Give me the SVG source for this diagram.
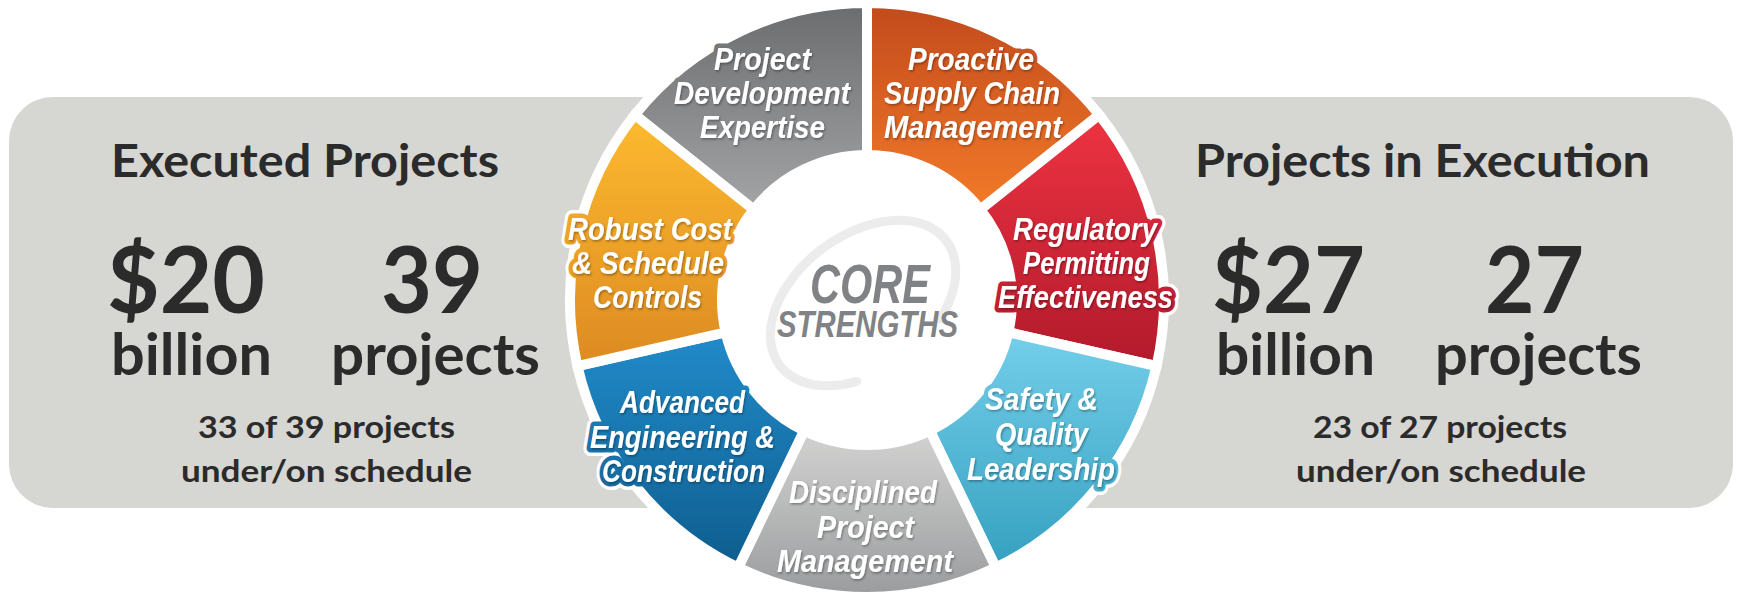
<svg xmlns="http://www.w3.org/2000/svg" xmlns:xlink="http://www.w3.org/1999/xlink" width="1737" height="595" viewBox="0 0 1737 595">
<style>
.seg{stroke:#fff;stroke-width:10;stroke-linejoin:miter}
.lbl{font-family:"Liberation Sans",Arial,sans-serif;font-weight:700;font-style:italic;font-size:31px}
.hw{fill:#fff;stroke:#fff;stroke-width:16;stroke-linejoin:round}
.hc{fill:#fff;stroke-width:9;stroke-linejoin:round}
.pn{font-family:Lato,"Open Sans",sans-serif;font-weight:700;fill:#2b2b2b}
.h1{font-size:45px}
.big{font-size:92px}
.mid{font-size:58px}
.sm{font-size:30px}
.core{font-family:"Liberation Sans",Arial,sans-serif;font-weight:700;font-style:italic;fill:#808285}
</style>
<defs>
<linearGradient id="gGray" gradientUnits="userSpaceOnUse" x1="0" y1="3" x2="0" y2="212"><stop offset="0" stop-color="#6b6c6e"/><stop offset="1" stop-color="#a3a5a7"/></linearGradient>
<linearGradient id="gOrange" gradientUnits="userSpaceOnUse" x1="0" y1="3" x2="0" y2="212"><stop offset="0" stop-color="#c24a1c"/><stop offset="1" stop-color="#f37b29"/></linearGradient>
<linearGradient id="gRed" gradientUnits="userSpaceOnUse" x1="0" y1="115" x2="0" y2="366"><stop offset="0" stop-color="#ee3342"/><stop offset="1" stop-color="#b11a2b"/></linearGradient>
<linearGradient id="gLblue" gradientUnits="userSpaceOnUse" x1="0" y1="332" x2="0" y2="568"><stop offset="0" stop-color="#74cfea"/><stop offset="1" stop-color="#35a0c0"/></linearGradient>
<linearGradient id="gLgray" gradientUnits="userSpaceOnUse" x1="0" y1="431" x2="0" y2="597"><stop offset="0" stop-color="#d2d3d1"/><stop offset="1" stop-color="#9a9b9d"/></linearGradient>
<linearGradient id="gBlue" gradientUnits="userSpaceOnUse" x1="0" y1="332" x2="0" y2="568"><stop offset="0" stop-color="#218bca"/><stop offset="1" stop-color="#0e5d8e"/></linearGradient>
<linearGradient id="gYellow" gradientUnits="userSpaceOnUse" x1="0" y1="115" x2="0" y2="366"><stop offset="0" stop-color="#fdba2f"/><stop offset="1" stop-color="#dd8a22"/></linearGradient>
<filter id="sh" x="-10%" y="-20%" width="125%" height="150%"><feDropShadow dx="1" dy="1.5" stdDeviation="1" flood-color="#000" flood-opacity="0.35"/></filter>
</defs>

<rect id="panel" x="9" y="97" width="1724" height="411" rx="44" fill="#d6d6d2"/>

<g id="executed">
<text class="pn h1" x="111" y="177" textLength="388" lengthAdjust="spacingAndGlyphs">Executed Projects</text>
<text class="pn big" x="107" y="313" textLength="158" lengthAdjust="spacingAndGlyphs">$20</text>
<text class="pn big" x="381" y="313" textLength="102" lengthAdjust="spacingAndGlyphs">39</text>
<text class="pn mid" x="111" y="375" textLength="161" lengthAdjust="spacingAndGlyphs">billion</text>
<text class="pn mid" x="331" y="375" textLength="209" lengthAdjust="spacingAndGlyphs">projects</text>
<text class="pn sm" x="198" y="438" textLength="257" lengthAdjust="spacingAndGlyphs">33 of 39 projects</text>
<text class="pn sm" x="181" y="482" textLength="291" lengthAdjust="spacingAndGlyphs">under/on schedule</text>
</g>

<g id="in-execution">
<text class="pn h1" x="1195" y="177" textLength="455" lengthAdjust="spacingAndGlyphs">Projects in Execution</text>
<text class="pn big" x="1212" y="313" textLength="153" lengthAdjust="spacingAndGlyphs">$27</text>
<text class="pn big" x="1485" y="313" textLength="99" lengthAdjust="spacingAndGlyphs">27</text>
<text class="pn mid" x="1216" y="375" textLength="159" lengthAdjust="spacingAndGlyphs">billion</text>
<text class="pn mid" x="1435" y="375" textLength="207" lengthAdjust="spacingAndGlyphs">projects</text>
<text class="pn sm" x="1313" y="438" textLength="254" lengthAdjust="spacingAndGlyphs">23 of 27 projects</text>
<text class="pn sm" x="1296" y="482" textLength="290" lengthAdjust="spacingAndGlyphs">under/on schedule</text>
</g>

<g id="core">
<circle cx="867" cy="300" r="152" fill="#fff"/>
<g transform="translate(863,303) rotate(-36.8)">
<path d="M-52,59 A104,68 0 1 1 52,59" fill="none" stroke="#ececec" stroke-width="9" stroke-linecap="round"/>
</g>
<text class="core" x="810" y="303" font-size="56" textLength="120" lengthAdjust="spacingAndGlyphs">CORE</text>
<text class="core" x="777" y="337" font-size="37" textLength="181" lengthAdjust="spacingAndGlyphs">STRENGTHS</text>
</g>

<g id="n-development">
<use xlink:href="#t-development" class="hw"/>
<path class="seg" fill="url(#gGray)" d="M634.80,114.82 A297,297 0 0 1 867,3 L867,155 A145,145 0 0 0 753.63,209.59 Z"/>
<use xlink:href="#t-development" class="hc" stroke="url(#gGray)"/>
<g filter="url(#sh)" fill="#fff"><g id="t-development" class="lbl">
<text x="714" y="70" textLength="97" lengthAdjust="spacingAndGlyphs">Project</text>
<text x="674" y="104" textLength="176" lengthAdjust="spacingAndGlyphs">Development</text>
<text x="700" y="138" textLength="125" lengthAdjust="spacingAndGlyphs">Expertise</text>
</g></g>
</g>

<g id="n-supply">
<use xlink:href="#t-supply" class="hw"/>
<path class="seg" fill="url(#gOrange)" d="M867,3 A297,297 0 0 1 1099.20,114.82 L980.37,209.59 A145,145 0 0 0 867,155 Z"/>
<use xlink:href="#t-supply" class="hc" stroke="url(#gOrange)"/>
<g filter="url(#sh)" fill="#fff"><g id="t-supply" class="lbl">
<text x="908" y="70" textLength="126" lengthAdjust="spacingAndGlyphs">Proactive</text>
<text x="884" y="104" textLength="176" lengthAdjust="spacingAndGlyphs">Supply Chain</text>
<text x="884" y="138" textLength="178" lengthAdjust="spacingAndGlyphs">Management</text>
</g></g>
</g>

<g id="n-regulatory">
<use xlink:href="#t-regulatory" class="hw"/>
<path class="seg" fill="url(#gRed)" d="M1099.20,114.82 A297,297 0 0 1 1156.55,366.09 L1008.36,332.27 A145,145 0 0 0 980.37,209.59 Z"/>
<use xlink:href="#t-regulatory" class="hc" stroke="url(#gRed)"/>
<g filter="url(#sh)" fill="#fff"><g id="t-regulatory" class="lbl">
<text x="1013" y="240" textLength="144" lengthAdjust="spacingAndGlyphs">Regulatory</text>
<text x="1023" y="274" textLength="127" lengthAdjust="spacingAndGlyphs">Permitting</text>
<text x="998" y="308" textLength="175" lengthAdjust="spacingAndGlyphs">Effectiveness</text>
</g></g>
</g>

<g id="n-safety">
<use xlink:href="#t-safety" class="hw"/>
<path class="seg" fill="url(#gLblue)" d="M1156.55,366.09 A297,297 0 0 1 995.86,567.59 L929.91,430.64 A145,145 0 0 0 1008.36,332.27 Z"/>
<use xlink:href="#t-safety" class="hc" stroke="url(#gLblue)"/>
<g filter="url(#sh)" fill="#fff"><g id="t-safety" class="lbl">
<text x="985" y="410" textLength="113" lengthAdjust="spacingAndGlyphs">Safety &amp;</text>
<text x="995" y="445" textLength="93" lengthAdjust="spacingAndGlyphs">Quality</text>
<text x="967" y="480" textLength="148" lengthAdjust="spacingAndGlyphs">Leadership</text>
</g></g>
</g>

<g id="n-disciplined">
<use xlink:href="#t-disciplined" class="hw"/>
<path class="seg" fill="url(#gLgray)" d="M995.86,567.59 A297,297 0 0 1 738.14,567.59 L804.09,430.64 A145,145 0 0 0 929.91,430.64 Z"/>
<use xlink:href="#t-disciplined" class="hc" stroke="url(#gLgray)"/>
<g filter="url(#sh)" fill="#fff"><g id="t-disciplined" class="lbl">
<text x="789" y="503" textLength="148" lengthAdjust="spacingAndGlyphs">Disciplined</text>
<text x="817" y="538" textLength="97" lengthAdjust="spacingAndGlyphs">Project</text>
<text x="777" y="572" textLength="176" lengthAdjust="spacingAndGlyphs">Management</text>
</g></g>
</g>

<g id="n-engineering">
<use xlink:href="#t-engineering" class="hw"/>
<path class="seg" fill="url(#gBlue)" d="M738.14,567.59 A297,297 0 0 1 577.45,366.09 L725.64,332.27 A145,145 0 0 0 804.09,430.64 Z"/>
<use xlink:href="#t-engineering" class="hc" stroke="url(#gBlue)"/>
<g filter="url(#sh)" fill="#fff"><g id="t-engineering" class="lbl">
<text x="620" y="413" textLength="125" lengthAdjust="spacingAndGlyphs">Advanced</text>
<text x="590" y="448" textLength="185" lengthAdjust="spacingAndGlyphs">Engineering &amp;</text>
<text x="602" y="482" textLength="163" lengthAdjust="spacingAndGlyphs">Construction</text>
</g></g>
</g>

<g id="n-cost">
<use xlink:href="#t-cost" class="hw"/>
<path class="seg" fill="url(#gYellow)" d="M577.45,366.09 A297,297 0 0 1 634.80,114.82 L753.63,209.59 A145,145 0 0 0 725.64,332.27 Z"/>
<use xlink:href="#t-cost" class="hc" stroke="url(#gYellow)"/>
<g filter="url(#sh)" fill="#fff"><g id="t-cost" class="lbl">
<text x="568" y="240" textLength="164" lengthAdjust="spacingAndGlyphs">Robust Cost</text>
<text x="572" y="274" textLength="152" lengthAdjust="spacingAndGlyphs">&amp; Schedule</text>
<text x="593" y="308" textLength="109" lengthAdjust="spacingAndGlyphs">Controls</text>
</g></g>
</g>

<g id="connectors"/>
</svg>
